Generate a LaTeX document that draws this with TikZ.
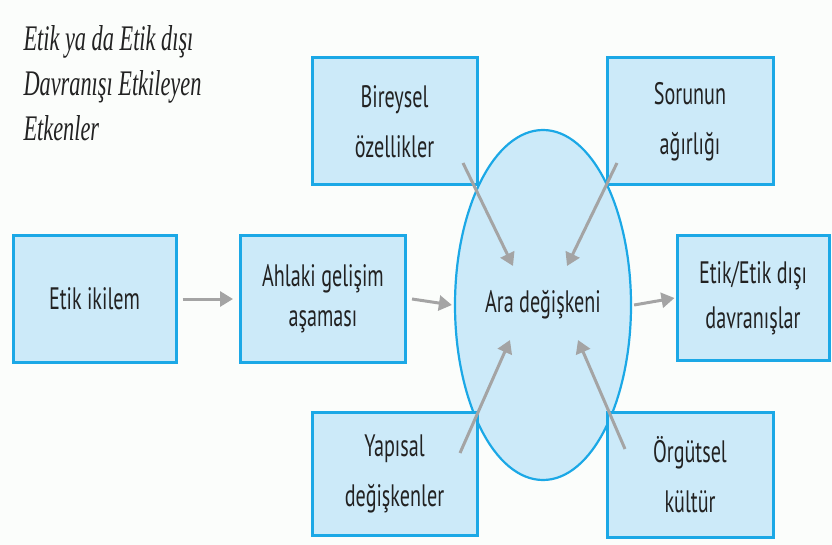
\documentclass[tikz,border=0pt]{standalone}
\usepackage{fontspec}
\setmainfont{PT Sans}[FakeStretch=0.65]
\newfontfamily\titlefont{Liberation Serif}[FakeStretch=0.62]
\usetikzlibrary{arrows.meta,shapes.geometric}
\definecolor{boxfill}{HTML}{CCEAF9}
\definecolor{boxline}{HTML}{1BA8E6}
\definecolor{arrgray}{HTML}{A4A4A4}
\definecolor{bg}{HTML}{FBFDFB}
\definecolor{txt}{HTML}{222222}
\tikzset{
  stepbox/.style={draw=boxline, line width=3pt, fill=boxfill, align=center,
    inner sep=0pt, text=txt, font=\fontsize{31}{40}\selectfont},
  widebox/.style={stepbox, font=\fontsize{31}{50}\selectfont},
  midell/.style={ellipse, draw=boxline, line width=2.2pt, fill=boxfill,
    inner sep=0pt, minimum width=176pt, minimum height=350pt, text=txt,
    font=\fontsize{31}{39}\selectfont},
  arr/.style={draw=arrgray, line width=3pt, -{Triangle[length=13pt,width=15pt]}},
}
\begin{document}
\begin{tikzpicture}[x=1pt,y=-1pt]
\fill[bg] (0,0) rectangle (832,545);
\useasboundingbox (0,0) rectangle (832,545);

\node[anchor=north west, align=left, text=txt,
  font=\titlefont\itshape\fontsize{36}{45}\selectfont] (title) at (20,22)
  {Etik ya da Etik dışı\\Davranışı Etkileyen\\Etkenler};

\node[midell] (ell) at (543,305) {Ara değişkeni};

\node[stepbox, minimum width=163pt, minimum height=126pt] (e1) at (94.5,299) {Etik ikilem};
\node[stepbox, minimum width=165pt, minimum height=126pt] (ahl) at (323,299) {Ahlaki gelişim\\aşaması};
\node[stepbox, font=\fontsize{31}{45}\selectfont, minimum width=152pt, minimum height=125pt] (out) at (753,298) {Etik/Etik dışı\\davranışlar};
\node[widebox, minimum width=165pt, minimum height=127pt] (bir) at (394.5,121.5) {Bireysel\\özellikler};
\node[widebox, minimum width=166pt, minimum height=127pt] (sor) at (690,121.5) {Sorunun\\ağırlığı};
\node[widebox, minimum width=165pt, minimum height=123pt] (yap) at (394.5,473.5) {Yapısal\\değişkenler};
\node[widebox, minimum width=166pt, minimum height=125pt] (org) at (690,474.5) {Örgütsel\\kültür};

\coordinate (b1) at (463,163);
\coordinate (b2) at (513,266);
\coordinate (s1) at (617,163);
\coordinate (s2) at (567,266);
\coordinate (y1) at (460,453);
\coordinate (y2) at (510,340);
\coordinate (o1) at (625,449);
\coordinate (o2) at (578,340);

\draw[arr] ([xshift=5pt]e1.east) -- ([xshift=-6pt]ahl.west);
\draw[arr] ([xshift=5pt]ahl.east) -- ([xshift=-2pt]ell.west);
\draw[arr] ([xshift=2pt]ell.east) -- ([xshift=-1pt]out.west);
\draw[arr] (b1) -- (b2);
\draw[arr] (s1) -- (s2);
\draw[arr] (y1) -- (y2);
\draw[arr] (o1) -- (o2);
\end{tikzpicture}
\end{document}
